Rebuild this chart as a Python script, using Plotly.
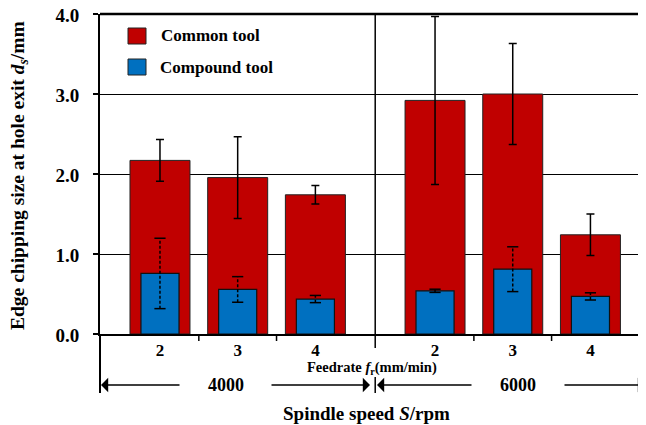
import plotly.graph_objects as go

# ---------------- data ----------------
feedrates = ["2", "3", "4"]
spindle_speeds = ["4000", "6000"]
common_mean = [2.17, 1.955, 1.74, 2.92, 3.00, 1.24]
common_err = [0.26, 0.51, 0.115, 1.05, 0.63, 0.26]
compound_mean = [0.757, 0.557, 0.437, 0.54, 0.81, 0.47]
compound_err = [0.44, 0.16, 0.045, 0.02, 0.28, 0.045]

# ---------------- layout helpers ----------------
OFF = 8  # default page body margin
W, H = 646 - OFF, 425 - OFF
ML, MR, MT, MB = 100 - OFF, 0, 14 - OFF, 91
PW, PH = W - ML - MR, H - MT - MB
GROUP_STEP = 3.54
X0 = -0.772
XR = [X0, X0 + PW / 77.7]

def px(p):  # reference pixel x -> paper
    return (p - OFF - ML) / PW

def py(p):  # reference pixel y -> paper
    return (H + OFF - MB - p) / PH

def xd(p):  # reference pixel x -> data x
    return XR[0] + px(p) * (XR[1] - XR[0])

xs = [g * GROUP_STEP + i for g in range(len(spindle_speeds)) for i in range(len(feedrates))]
ticktext = feedrates * len(spindle_speeds)
FONT = "Liberation Serif"

fig = go.Figure()
fig.add_trace(go.Bar(
    x=xs, y=common_mean, width=0.772, name="Common tool",
    marker=dict(color="#C00000", line=dict(color="#222222", width=1)),
    error_y=dict(type="data", array=common_err, color="black", thickness=1.5, width=4),
))
fig.add_trace(go.Bar(
    x=xs, y=compound_mean, width=0.49, name="Compound tool",
    marker=dict(color="#0070C0", line=dict(color="#111111", width=1.2)),
))

# dashed error bars for compound tool
sx, sy, cx, cy = [], [], [], []
for x, m, e in zip(xs, compound_mean, compound_err):
    sx += [x, x, None]
    sy += [m - e, m + e, None]
    cx += [x, x]
    cy += [m - e, m + e]
fig.add_trace(go.Scatter(x=sx, y=sy, mode="lines", line=dict(color="black", width=1.5, dash="3px,2px"),
                         hoverinfo="skip"))
fig.add_trace(go.Scatter(x=cx, y=cy, mode="markers",
                         marker=dict(symbol="line-ew", size=8, line=dict(color="black", width=1.5)),
                         hoverinfo="skip"))

shapes = []
shapes.append(dict(type="line", xref="paper", yref="paper", x0=0, x1=1, y0=1, y1=1,
                   line=dict(color="black", width=2.5)))
sep = (len(feedrates) - 1 + GROUP_STEP) / 2
shapes.append(dict(type="line", xref="x", yref="paper", x0=sep, x1=sep, y0=py(348), y1=1,
                   line=dict(color="black", width=1.5)))
shapes.append(dict(type="line", xref="x", yref="paper", x0=sep, x1=sep, y0=py(393), y1=py(377),
                   line=dict(color="black", width=1.5)))
shapes.append(dict(type="line", xref="paper", yref="paper", x0=0, x1=0, y0=py(393), y1=0,
                   line=dict(color="black", width=2)))
for g in range(len(spindle_speeds)):
    for i in range(len(feedrates) - 1):
        bx = g * GROUP_STEP + i + 0.5
        shapes.append(dict(type="line", xref="x", yref="paper", x0=bx, x1=bx, y0=py(341), y1=0,
                           line=dict(color="black", width=1.5)))
shapes.append(dict(type="rect", xref="paper", yref="paper", x0=px(128), x1=px(146), y0=py(44), y1=py(28),
                   fillcolor="#C00000", line=dict(color="#222222", width=1)))
shapes.append(dict(type="rect", xref="paper", yref="paper", x0=px(128), x1=px(146), y0=py(75), y1=py(59),
                   fillcolor="#0070C0", line=dict(color="#222222", width=1)))

ann = []
ann.append(dict(text="<b>Common tool</b>", xref="paper", yref="paper", x=px(159), y=py(36),
                xanchor="left", yanchor="middle", showarrow=False, font=dict(family=FONT, size=17)))
ann.append(dict(text="<b>Compound tool</b>", xref="paper", yref="paper", x=px(158), y=py(67),
                xanchor="left", yanchor="middle", showarrow=False, font=dict(family=FONT, size=17)))
ann.append(dict(text="<b>Edge chipping size at hole exit <i>d</i><sub><i>s</i></sub>/mm</b>",
                xref="paper", yref="paper", x=px(19), y=py(176), textangle=-90,
                xanchor="center", yanchor="middle", showarrow=False, font=dict(family=FONT, size=19.5)))
ann.append(dict(text="<b>Feedrate <i>f</i><sub>r</sub>(mm/min)</b>", xref="paper", yref="paper",
                x=px(372), y=py(368), xanchor="center", yanchor="middle", showarrow=False,
                font=dict(family=FONT, size=14.5)))
ann.append(dict(text="<b>Spindle speed <i>S</i>/rpm</b>", xref="paper", yref="paper",
                x=px(366), y=py(413), xanchor="center", yanchor="middle", showarrow=False,
                font=dict(family=FONT, size=19)))
for label, cxp in zip(spindle_speeds, [226, 518]):
    ann.append(dict(text="<b>%s</b>" % label, xref="paper", yref="paper", x=px(cxp), y=py(385),
                    xanchor="center", yanchor="middle", showarrow=False, font=dict(family=FONT, size=18)))

for head, tail in [(101, 181), (370, 270), (377, 473), (645, 563)]:
    ann.append(dict(text="", xref="x", yref="paper", x=xd(head), y=py(385),
                    axref="x", ayref="pixel", ax=xd(tail), ay=0,
                    showarrow=True, arrowhead=1, arrowsize=1.6, arrowwidth=1.5,
                    arrowcolor="black", standoff=0, startstandoff=0))

fig.update_layout(
    width=W, height=H,
    margin=dict(l=ML, r=MR, t=MT, b=MB, autoexpand=False),
    paper_bgcolor="white", plot_bgcolor="white",
    barmode="overlay", showlegend=False,
    font=dict(family=FONT, color="black"),
    shapes=shapes, annotations=ann,
    xaxis=dict(range=XR, tickvals=xs, ticktext=["<b>%s</b>" % t for t in ticktext],
               ticks="", showgrid=False, zeroline=False, showline=True,
               linecolor="black", linewidth=1.5, tickfont=dict(family=FONT, size=17),
               ticklabeloverflow="allow", automargin=False, fixedrange=True),
    yaxis=dict(range=[0, 4], tickvals=[0, 1, 2, 3, 4],
               ticktext=["<b>%.1f</b>" % v for v in [0, 1, 2, 3, 4]],
               ticks="outside", ticklen=5, tickcolor="black", tickwidth=1.5,
               showline=True, linecolor="black", linewidth=2,
               showgrid=True, gridcolor="black", gridwidth=1, zeroline=False,
               tickfont=dict(family=FONT, size=19), ticklabeloverflow="allow",
               ticklabelstandoff=10, ticklabelshift=1,
               automargin=False, fixedrange=True),
)

fig.write_html("out.html")
